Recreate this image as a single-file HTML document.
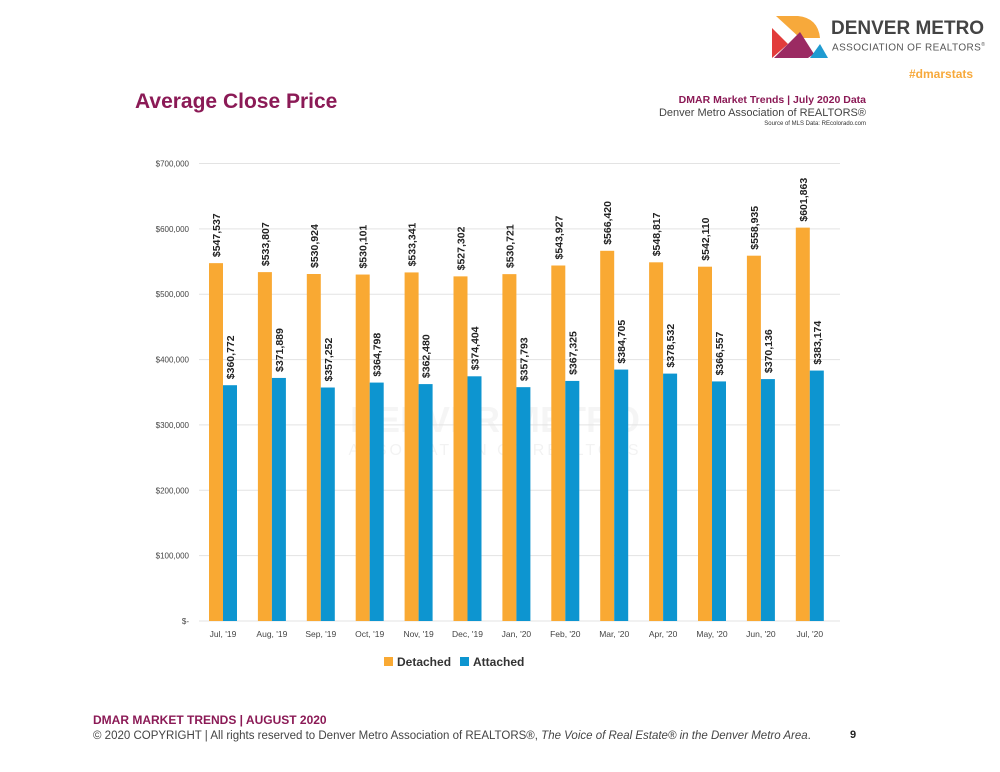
<!DOCTYPE html>
<html><head><meta charset="utf-8">
<style>
body{margin:0;background:#fff;font-family:"Liberation Sans",sans-serif;}
#wrap{position:relative;width:1000px;height:772px;overflow:hidden;}
.abs{position:absolute;white-space:nowrap;}
</style></head>
<body>
<div id="wrap">
  <svg class="abs" style="left:770px;top:14px" width="60" height="45">
    <path d="M6,2 L28,2 Q48,4 50,24 L30,24 Z" fill="#f7a93b"/>
    <path d="M2,14 L18,30 L2,44 Z" fill="#e23c3b"/>
    <path d="M4,44 L30,18 L44,40 L38,44 Z" fill="#9b2a62"/>
    <path d="M40,44 L50,30 L58,44 Z" fill="#1f9bd1"/>
  </svg>
  <div class="abs" style="left:831px;top:18px;font-size:19px;font-weight:bold;color:#444">DENVER METRO</div>
  <div class="abs" style="left:832px;top:42px;font-size:10px;color:#555;letter-spacing:0.4px">ASSOCIATION OF REALTORS<sup style="font-size:5px">®</sup></div>
  <div class="abs" style="left:909px;top:67px;font-size:12px;font-weight:bold;color:#f7a93b">#dmarstats</div>

  <div class="abs" style="left:135px;top:90px;font-size:21px;font-weight:bold;color:#8b1a56">Average Close Price</div>
  <div class="abs" style="right:134px;top:95px;text-align:right;line-height:1">
    <div style="font-size:10.5px;font-weight:bold;color:#8b1a56">DMAR Market Trends | July 2020 Data</div>
    <div style="font-size:11px;color:#444;margin-top:2px">Denver Metro Association of REALTORS®</div>
    <div style="font-size:6px;color:#333;margin-top:2px">Source of MLS Data: REcolorado.com</div>
  </div>

  <svg id="chart" class="abs" style="left:0;top:0" width="1000" height="700"></svg>

  <div class="abs" style="left:93px;top:713px;font-size:12px;font-weight:bold;color:#8b1a56">DMAR MARKET TRENDS | AUGUST 2020</div>
  <div class="abs" style="left:93px;top:730px;font-size:11.5px;color:#444">© 2020 COPYRIGHT | All rights reserved to Denver Metro Association of REALTORS®, <i>The Voice of Real Estate® in the Denver Metro Area</i>.</div>
  <div class="abs" style="left:850px;top:729px;font-size:11px;font-weight:bold;color:#222">9</div>
</div>
<script>
const categories=["Jul, '19","Aug, '19","Sep, '19","Oct, '19","Nov, '19","Dec, '19","Jan, '20","Feb, '20","Mar, '20","Apr, '20","May, '20","Jun, '20","Jul, '20"];
const detached=[547537,533807,530924,530101,533341,527302,530721,543927,566420,548817,542110,558935,601863];
const attached=[360772,371889,357252,364798,362480,374404,357793,367325,384705,378532,366557,370136,383174];
const yTicks=[0,100000,200000,300000,400000,500000,600000,700000];
const yTickLabels=["$-","$100,000","$200,000","$300,000","$400,000","$500,000","$600,000","$700,000"];

const NS="http://www.w3.org/2000/svg";
const svg=document.getElementById('chart');
const y0=621,yTop=163.5,yMax=700000;
const yScale=v=>y0-(v/yMax)*(y0-yTop);
const x0=223,step=48.9;
const xScale=i=>x0+i*step;
const bw=14;
const fmt=v=>"$"+v.toLocaleString("en-US");
function mk(tag,attrs){const e=document.createElementNS(NS,tag);for(const k in attrs)e.setAttribute(k,attrs[k]);svg.appendChild(e);return e;}

let wm=mk('text',{x:495,y:432,'text-anchor':'middle','font-size':'36','font-weight':'bold',fill:'#000','fill-opacity':'0.04','font-family':'Liberation Sans, sans-serif'});
wm.textContent="DENVER METRO";


let wm2=mk('text',{x:495,y:455,'text-anchor':'middle','font-size':'16','letter-spacing':'3',fill:'#000','fill-opacity':'0.05','font-family':'Liberation Sans, sans-serif'});
wm2.textContent="ASSOCIATION OF REALTORS";



yTicks.forEach((t,i)=>{
  const y=yScale(t);
  const g=mk('line',{x1:199,x2:840,y1:y,y2:y,stroke:'#e3e3e3','stroke-width':1});
  
  
  const l=mk('text',{x:189,y:y+3,'text-anchor':'end','font-size':'8',fill:'#444'});
  l.textContent=yTickLabels[i];
  
  
});

categories.forEach((c,i)=>{
  const cx=xScale(i);
  const yd=yScale(detached[i]);
  const b1=mk('rect',{x:cx-bw,y:yd,width:bw,height:y0-yd,fill:'#f9a933'});
  
  
  const ya=yScale(attached[i]);
  const b2=mk('rect',{x:cx,y:ya,width:bw,height:y0-ya,fill:'#0d95d0'});
  
  
  [[cx-bw/2,yd,detached[i],'value-label-detached'],[cx+bw/2,ya,attached[i],'value-label-attached']].forEach(([x,y,v,n])=>{
    const t=mk('text',{x:0,y:0,transform:`translate(${x+4},${y-6}) rotate(-90)`,'font-size':'10.5','font-weight':'bold',fill:'#222'});
    t.textContent=fmt(v);
    
    
  });
  const xl=mk('text',{x:cx,y:637,'text-anchor':'middle','font-size':'8.5',fill:'#444'});
  xl.textContent=c;
  
  
});

const lg=[["Detached","#f9a933",384],["Attached","#0d95d0",460]];
lg.forEach(([n,c,x])=>{
  const r=mk('rect',{x:x,y:657,width:9,height:9,fill:c});
  
  
  const t=mk('text',{x:x+13,y:666,'font-size':'12','font-weight':'bold',fill:'#333'});
  t.textContent=n;
  
  
});
</script>
</body></html>
